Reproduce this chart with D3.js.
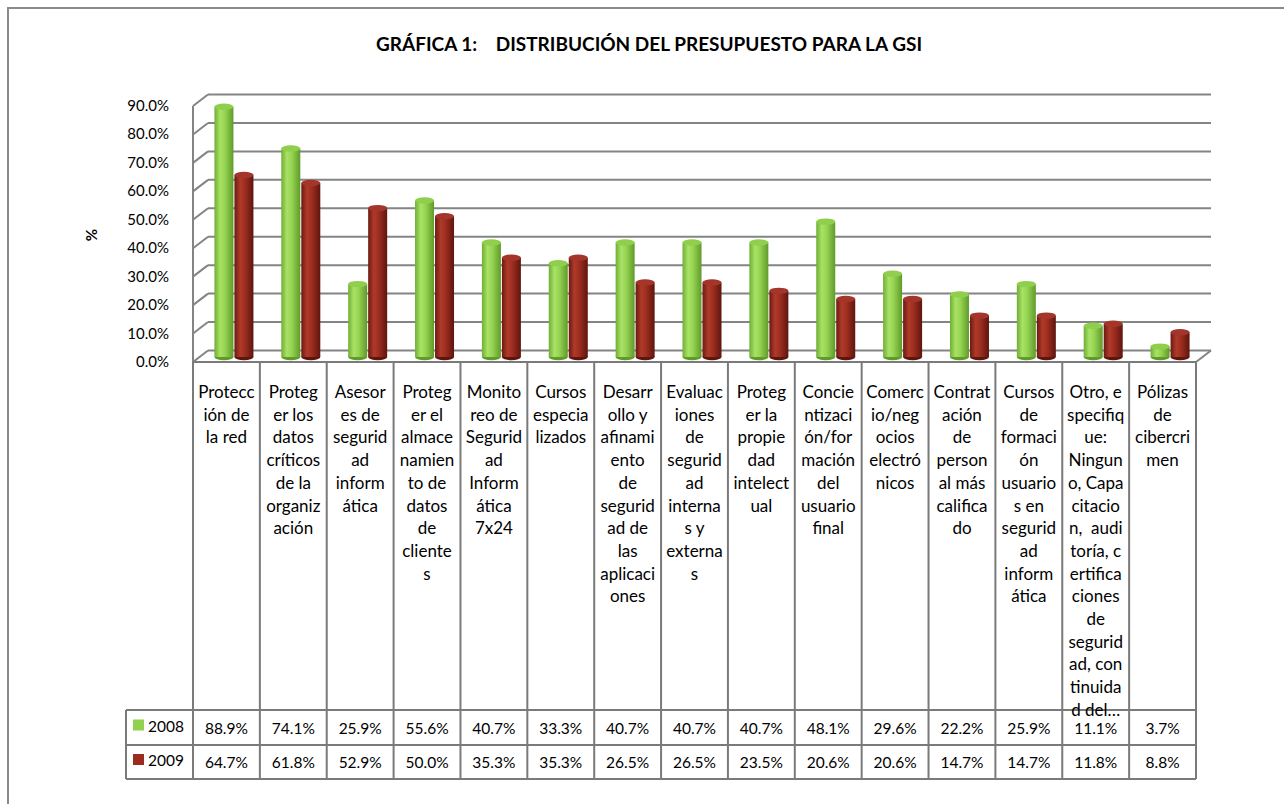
<!DOCTYPE html>
<html><head><meta charset="utf-8">
<script src="https://cdn.jsdelivr.net/npm/d3@7"></script>
<style>body{margin:0;background:#fff;} svg{display:block;} text{font-family:Lato,"Open Sans",sans-serif;fill:#000;}</style>
</head><body>
<svg id="c" width="1284" height="804"></svg>
<script>
const categories = [
  ["Protecc","ión de","la red"],
  ["Proteg","er los","datos","críticos","de la","organiz","ación"],
  ["Asesor","es de","segurid","ad","inform","ática"],
  ["Proteg","er el","almace","namien","to de","datos","de","cliente","s"],
  ["Monito","reo de","Segurid","ad","Inform","ática","7x24"],
  ["Cursos","especia","lizados"],
  ["Desarr","ollo y","afinami","ento","de","segurid","ad de","las","aplicaci","ones"],
  ["Evaluac","iones","de","segurid","ad","interna","s y","externa","s"],
  ["Proteg","er la","propie","dad","intelect","ual"],
  ["Concie","ntizaci","ón/for","mación","del","usuario","final"],
  ["Comerc","io/neg","ocios","electró","nicos"],
  ["Contrat","ación","de","person","al más","califica","do"],
  ["Cursos","de","formaci","ón","usuario","s en","segurid","ad","inform","ática"],
  ["Otro, e","specifiq","ue:","Ningun","o, Capa","citacio","n,  audi","toría, c","ertifica","ciones","de","segurid","ad, con","tinuida","d del…"],
  ["Pólizas","de","cibercri","men"]
];
const series2008 = [0.889,0.741,0.259,0.556,0.407,0.333,0.407,0.407,0.407,0.481,0.296,0.222,0.259,0.111,0.037];
const series2009 = [0.647,0.618,0.529,0.500,0.353,0.353,0.265,0.265,0.235,0.206,0.206,0.147,0.147,0.118,0.088];
const seriesNames = ["2008","2009"];
const yTicks = [0,0.1,0.2,0.3,0.4,0.5,0.6,0.7,0.8,0.9];
const title = "GRÁFICA 1:    DISTRIBUCIÓN DEL PRESUPUESTO PARA LA GSI";

const svg = d3.select("#c");
const grid = "#848484";
const left = 193, right = 1196;
const dx = 15, dy = -11.5;
const x = d3.scaleBand().domain(d3.range(categories.length)).range([left, right]).paddingInner(0);
const y = d3.scaleLinear().domain([0, 0.9]).range([362, 106]);
const yMid = d3.scaleLinear().domain([0, 0.9]).range([357, 103.7]);
const fmt = d3.format(".1%");

// outer border
svg.append("rect").attr("x",8).attr("y",8).attr("width",1290).attr("height",810)
  .attr("fill","none").attr("stroke","#8a8a8a").attr("stroke-width",2);

// title
svg.append("text").attr("x",649).attr("y",51).attr("text-anchor","middle")
  .style("font-weight","bold").style("font-size","19px").style("white-space","pre")
  .text(title);

// defs gradients
const defs = svg.append("defs");
function grad(id, stops){
  const g = defs.append("linearGradient").attr("id",id).attr("x1","0").attr("x2","1").attr("y1","0").attr("y2","0");
  stops.forEach(s=>g.append("stop").attr("offset",s[0]).attr("stop-color",s[1]));
}
grad("gG",[[0,"#6fae34"],[0.3,"#a9e266"],[0.55,"#96d452"],[1,"#5f9a2a"]]);
grad("gR",[[0,"#6a1a12"],[0.3,"#b03a2a"],[0.55,"#9e2e20"],[1,"#5e150e"]]);

// back gridlines and left wall
const gl = svg.append("g").attr("stroke",grid).attr("stroke-width",2).attr("fill","none");
yTicks.forEach(t=>{
  gl.append("line").attr("x1",left+dx).attr("x2",right+dx).attr("y1",y(t)+dy).attr("y2",y(t)+dy);
  gl.append("line").attr("x1",left).attr("x2",left+dx).attr("y1",y(t)).attr("y2",y(t)+dy);
});
gl.append("line").attr("x1",left).attr("x2",left).attr("y1",y(0.9)).attr("y2",y(0));
gl.append("line").attr("x1",right).attr("x2",right+dx).attr("y1",y(0)).attr("y2",y(0)+dy);

// y ticks
svg.append("g").selectAll("text").data(yTicks).join("text")
  .attr("x",169).attr("y",d=>y(d)+5).attr("text-anchor","end").style("font-size","15px")
  .text(d=>fmt(d));
svg.append("text").attr("transform","translate(97,235) rotate(-90)").attr("text-anchor","middle")
  .style("font-weight","bold").style("font-size","15px").text("%");

// bars (cylinders)
const bw = 19, ry = 3.2;
const bars = svg.append("g");
function cyl(cx, v, fillId, topCol, botCol){
  const yb = yMid(0), yt = yMid(v);
  const g = bars.append("g");
  g.append("ellipse").attr("cx",cx).attr("cy",yb).attr("rx",bw/2).attr("ry",ry).attr("fill",botCol);
  g.append("rect").attr("x",cx-bw/2).attr("y",yt).attr("width",bw).attr("height",Math.max(0,yb-yt)).attr("fill",`url(#${fillId})`);
  g.append("ellipse").attr("cx",cx).attr("cy",yt).attr("rx",bw/2).attr("ry",ry).attr("fill",topCol);
}
categories.forEach((c,i)=>{
  const cx = x(i)+x.bandwidth()/2+dx/2;
  cyl(cx-10, series2008[i], "gG", "#8fcf4d", "#5f9a2a");
  cyl(cx+10, series2009[i], "gR", "#a3352a", "#5e150e");
});

// table
const rowTop = 710, rowMid = 745, rowBot = 779, legLeft = 126;
const tl = svg.append("g").attr("stroke","#7a7a7a").attr("stroke-width",2);
d3.range(categories.length+1).forEach(i=>{
  const xx = i<categories.length ? x(i) : right;
  tl.append("line").attr("x1",xx).attr("x2",xx).attr("y1",y(0)).attr("y2",rowBot);
});
tl.append("line").attr("x1",left).attr("x2",right).attr("y1",y(0)).attr("y2",y(0));
[rowTop,rowMid,rowBot].forEach(yy=>tl.append("line").attr("x1",legLeft).attr("x2",right).attr("y1",yy).attr("y2",yy));
tl.append("line").attr("x1",legLeft).attr("x2",legLeft).attr("y1",rowTop).attr("y2",rowBot);

// category labels
const lh = 22.7;
categories.forEach((lines,i)=>{
  const t = svg.append("text").attr("text-anchor","middle").style("font-size","17px").style("white-space","pre");
  lines.forEach((ln,j)=>t.append("tspan").attr("x",x(i)+x.bandwidth()/2).attr("y",398+j*lh).text(ln));
});

// values
[series2008, series2009].forEach((s,r)=>{
  const cy = r===0 ? (rowTop+rowMid)/2 : (rowMid+rowBot)/2;
  svg.append("g").selectAll("text").data(s).join("text")
    .attr("x",(d,i)=>x(i)+x.bandwidth()/2).attr("y",cy+6).attr("text-anchor","middle").style("font-size","15.5px")
    .text(d=>fmt(d));
  svg.append("rect").attr("x",133).attr("y",cy-8).attr("width",11).attr("height",11)
    .attr("fill", r===0 ? "#92d050" : "#9b2a1f");
  svg.append("text").attr("x",148).attr("y",cy+4).style("font-size","15.5px").text(seriesNames[r]);
});
</script>
</body></html>
